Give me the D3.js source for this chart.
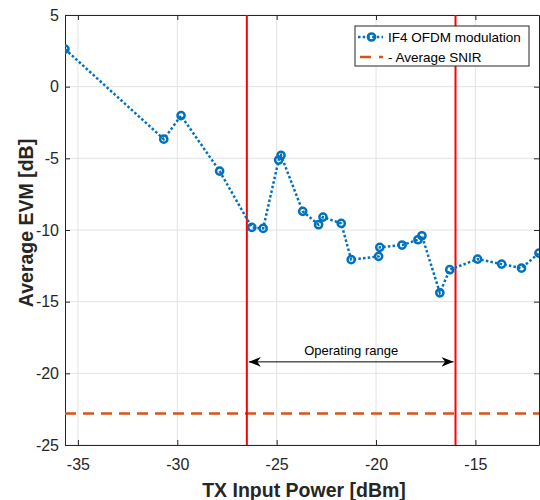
<!DOCTYPE html>
<html>
<head>
<meta charset="utf-8">
<script src="https://cdn.jsdelivr.net/npm/d3@7"></script>
<style>
  body { margin: 0; background: #fff; }
  svg { display: block; font-family: "Liberation Sans", Arial, sans-serif; }
</style>
</head>
<body>
<div id="chart"></div>
<script>
// data
const txPower = [-35.65, -30.68, -29.81, -27.87, -26.25, -25.68, -24.90, -24.78,
  -23.69, -22.89, -22.67, -21.75, -21.25, -19.87, -19.81, -18.69, -17.89, -17.69,
  -16.79, -16.29, -14.89, -13.68, -12.68, -11.8];
const evm = [2.62, -3.66, -2.02, -5.89, -9.82, -9.89, -5.12, -4.79,
  -8.70, -9.63, -9.10, -9.54, -12.07, -11.84, -11.21, -11.05, -10.68, -10.40,
  -14.38, -12.77, -12.03, -12.38, -12.66, -11.61];
const avgSnir = -22.8;
const rangeBounds = [-26.5, -16.0];
const xTicks = [-35, -30, -25, -20, -15];
const yTicks = [5, 0, -5, -10, -15, -20, -25];
const seriesNames = ['IF4 OFDM modulation', '- Average SNIR'];

const width = 540, height = 500;
const margin = { top: 15, right: 1, bottom: 55, left: 65 };
const W = width - margin.left - margin.right;
const H = height - margin.top - margin.bottom;

const svg = d3.select('#chart').append('svg')
  .attr('width', width)
  .attr('height', height);

const x = d3.scaleLinear().domain([-35.65, -11.8]).range([0, W]);
const y = d3.scaleLinear().domain([-25, 5]).range([H, 0]);
const fmt = d => String(d); // plain hyphen like the original

const g = svg.append('g').attr('transform', `translate(${margin.left},${margin.top})`);

svg.append('defs').append('clipPath').attr('id', 'clip')
  .append('rect').attr('width', W).attr('height', H);

// grid
g.append('g').selectAll('line').data(xTicks).join('line')
  .attr('x1', d => x(d)).attr('x2', d => x(d))
  .attr('y1', 0).attr('y2', H)
  .attr('stroke', '#e3e3e3').attr('stroke-width', 1);
g.append('g').selectAll('line').data(yTicks).join('line')
  .attr('x1', 0).attr('x2', W)
  .attr('y1', d => y(d)).attr('y2', d => y(d))
  .attr('stroke', '#e3e3e3').attr('stroke-width', 1);

// axes
const xAxis = g.append('g').attr('transform', `translate(0,${H})`)
  .call(d3.axisBottom(x).tickValues(xTicks).tickFormat(fmt).tickSizeInner(-5).tickSizeOuter(0).tickPadding(14));
const xTop = g.append('g')
  .call(d3.axisTop(x).tickValues(xTicks).tickSizeInner(-5).tickSizeOuter(0).tickFormat(''));
const yAxis = g.append('g')
  .call(d3.axisLeft(y).tickValues(yTicks).tickFormat(fmt).tickSizeInner(-5).tickSizeOuter(0).tickPadding(6));
const yRight = g.append('g').attr('transform', `translate(${W},0)`)
  .call(d3.axisRight(y).tickValues(yTicks).tickSizeInner(-5).tickSizeOuter(0).tickFormat(''));

[xAxis, xTop, yAxis, yRight].forEach(a => {
  a.select('.domain').attr('stroke', '#262626');
  a.selectAll('.tick line').attr('stroke', '#262626');
  a.selectAll('text').attr('fill', '#262626').style('font-size', '16px')
    .style('font-family', '"Liberation Sans", Arial, sans-serif');
});

const plot = g.append('g').attr('clip-path', 'url(#clip)');

// average SNIR
plot.append('line')
  .attr('x1', 0).attr('x2', W)
  .attr('y1', y(avgSnir)).attr('y2', y(avgSnir))
  .attr('stroke', '#D95319').attr('stroke-width', 2.5)
  .attr('stroke-dasharray', '11,7');

// operating range bounds
plot.selectAll('.bound').data(rangeBounds).join('line')
  .attr('class', 'bound')
  .attr('x1', d => x(d)).attr('x2', d => x(d))
  .attr('y1', 0).attr('y2', H)
  .attr('stroke', '#ff0000').attr('stroke-width', 2);

// EVM series
const pts = txPower.map((p, i) => [p, evm[i]]);
plot.append('path')
  .datum(pts)
  .attr('d', d3.line().x(d => x(d[0])).y(d => y(d[1])))
  .attr('fill', 'none')
  .attr('stroke', '#0072BD').attr('stroke-width', 2.5)
  .attr('stroke-dasharray', '2.5,2.2');
plot.selectAll('circle').data(pts).join('circle')
  .attr('cx', d => x(d[0])).attr('cy', d => y(d[1]))
  .attr('r', 3.6)
  .attr('fill', 'none')
  .attr('stroke', '#0072BD').attr('stroke-width', 2.5);

// operating range arrow
const arrowY = y(-19.2);
const defs = svg.select('defs');
['start', 'end'].forEach(k => {
  defs.append('marker').attr('id', 'arr-' + k)
    .attr('viewBox', '0 0 10 10').attr('refX', 10).attr('refY', 5)
    .attr('markerWidth', 12).attr('markerHeight', 12)
    .attr('markerUnits', 'userSpaceOnUse')
    .attr('orient', k === 'end' ? 'auto' : 'auto-start-reverse')
    .append('path').attr('d', 'M0,1 L10,5 L0,9 L3,5 Z').attr('fill', '#000');
});
g.append('line')
  .attr('x1', x(rangeBounds[0]) + 2).attr('x2', x(rangeBounds[1]) - 2)
  .attr('y1', arrowY).attr('y2', arrowY)
  .attr('stroke', '#000').attr('stroke-width', 1)
  .attr('marker-start', 'url(#arr-start)')
  .attr('marker-end', 'url(#arr-end)');
g.append('text')
  .attr('x', (x(rangeBounds[0]) + x(rangeBounds[1])) / 2)
  .attr('y', arrowY - 7)
  .attr('text-anchor', 'middle')
  .style('font-size', '13px')
  .attr('fill', '#000')
  .text('Operating range');

// axis labels
svg.append('text')
  .attr('x', margin.left + W / 2 + 2).attr('y', 497)
  .attr('text-anchor', 'middle')
  .style('font-size', '19.5px').style('font-weight', 'bold')
  .attr('fill', '#262626')
  .text('TX Input Power [dBm]');
svg.append('text')
  .attr('transform', `translate(33,${margin.top + H / 2 - 7}) rotate(-90)`)
  .attr('text-anchor', 'middle')
  .style('font-size', '19.5px').style('font-weight', 'bold')
  .attr('fill', '#262626')
  .text('Average EVM [dB]');

// legend
const lg = svg.append('g').attr('transform', 'translate(355,26)');
lg.append('rect').attr('width', 174).attr('height', 40)
  .attr('fill', '#fff').attr('stroke', '#262626').attr('stroke-width', 1);
lg.append('line').attr('x1', 3).attr('x2', 28).attr('y1', 11).attr('y2', 11)
  .attr('stroke', '#0072BD').attr('stroke-width', 2.5).attr('stroke-dasharray', '2.5,2.2');
lg.append('circle').attr('cx', 16.5).attr('cy', 11).attr('r', 3.6)
  .attr('fill', 'none').attr('stroke', '#0072BD').attr('stroke-width', 2.5);
lg.append('line').attr('x1', 5).attr('x2', 28).attr('y1', 31).attr('y2', 31)
  .attr('stroke', '#D95319').attr('stroke-width', 2.5).attr('stroke-dasharray', '11,8');
lg.selectAll('.lt').data(seriesNames).join('text')
  .attr('class', 'lt')
  .attr('x', 33).attr('y', (d, i) => 15.5 + i * 20)
  .style('font-size', '13.5px').attr('fill', '#000')
  .text(d => d);
</script>
</body>
</html>
